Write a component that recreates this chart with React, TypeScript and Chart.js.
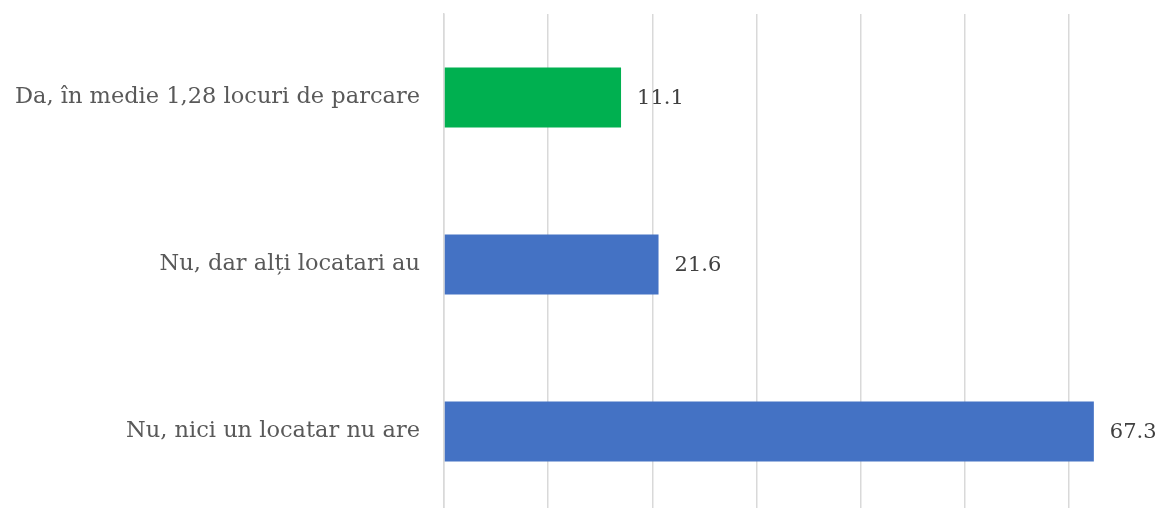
import React, { useEffect, useRef } from "react";
import { Chart, registerables } from "chart.js";

Chart.register(...registerables);

const categories = [
  "Da, în medie 1,28 locuri de parcare",
  "Nu, dar alți locatari au",
  "Nu, nici un locatar nu are",
];
const barValues = [17.0, 20.6, 62.4];
const valueLabels = ["11.1", "21.6", "67.3"];
const barColors = ["#00B050", "#4472C4", "#4472C4"];
const axisMax = 70;
const axisStep = 10;

const FONT = "'DejaVu Serif', 'Liberation Serif', serif";

const dataLabelPlugin = {
  id: "valueLabels",
  afterDatasetsDraw(chart: any) {
    const ctx = chart.ctx;
    const meta = chart.getDatasetMeta(0);
    ctx.save();
    ctx.font = `21px ${FONT}`;
    ctx.fillStyle = "#404040";
    ctx.textAlign = "left";
    ctx.textBaseline = "middle";
    meta.data.forEach((bar: any, i: number) => {
      ctx.fillText(valueLabels[i], bar.x + 16, bar.y + 1);
    });
    ctx.restore();
  },
};

export default function App() {
  const ref = useRef<HTMLCanvasElement | null>(null);
  useEffect(() => {
    if (!ref.current) return;
    const chart = new Chart(ref.current, {
      type: "bar",
      data: {
        labels: categories,
        datasets: [
          {
            data: barValues,
            backgroundColor: barColors,
            borderWidth: 0,
            barPercentage: 0.36,
            categoryPercentage: 1,
          },
        ],
      },
      options: {
        indexAxis: "y",
        animation: false,
        responsive: false,
        layout: { padding: { top: 14, right: 27, bottom: 0, left: 0 } },
        plugins: { legend: { display: false }, tooltip: { enabled: false } },
        scales: {
          x: {
            min: 0,
            max: axisMax,
            ticks: { display: false, stepSize: axisStep },
            grid: { color: "#D9D9D9", lineWidth: 1.5, drawTicks: false },
            border: { display: false },
            afterFit: (s: any) => {
              s.height = 0;
              s.paddingLeft = 0;
              s.paddingRight = 0;
            },
          },
          y: {
            ticks: {
              color: "#595959",
              font: { family: FONT, size: 22.5 },
              padding: 24,
            },
            grid: { display: false, drawTicks: false },
            border: { display: true, color: "#D9D9D9", width: 1.5 },
            afterFit: (s: any) => {
              s.width = 444;
              s.paddingTop = 0;
              s.paddingBottom = 0;
            },
          },
        },
      },
      plugins: [dataLabelPlugin],
    });
    return () => chart.destroy();
  }, []);
  return (
    <div
      style={{
        position: "fixed",
        left: 0,
        top: 0,
        width: 1159,
        height: 508,
        overflow: "hidden",
        background: "#FFFFFF",
      }}
    >
      <canvas ref={ref} width={1200} height={515} style={{ display: "block" }} />
    </div>
  );
}
